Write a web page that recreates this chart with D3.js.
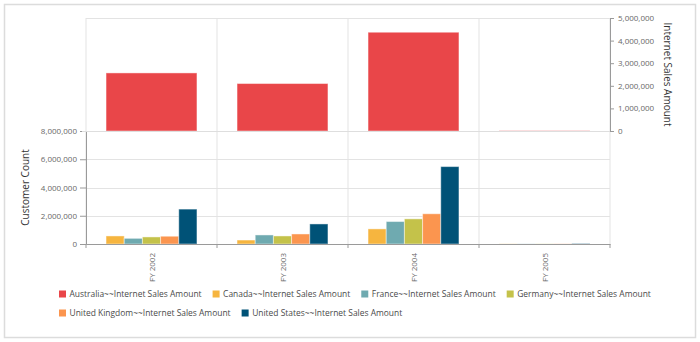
<!DOCTYPE html>
<html><head><meta charset="utf-8">
<script src="https://cdn.jsdelivr.net/npm/d3@7/dist/d3.min.js"></script>
<style>
html,body{margin:0;padding:0;background:#fff;}
svg{display:block;font-family:"Open Sans","Noto Sans",sans-serif;}
</style></head>
<body><svg id="c" width="700" height="342"></svg>
<script>
const categories = ["FY 2002", "FY 2003", "FY 2004", "FY 2005"];
const seriesNames = ["Australia~~Internet Sales Amount", "Canada~~Internet Sales Amount", "France~~Internet Sales Amount", "Germany~~Internet Sales Amount", "United Kingdom~~Internet Sales Amount", "United States~~Internet Sales Amount"];
const seriesColors = ["#E94649", "#F6B53F", "#6FAAB0", "#C4C24A", "#FB954F", "#005277"];
const australia = [2570000, 2100000, 4370000, 12000];
const canada = [570000, 280000, 1070000, 10000];
const france = [400000, 640000, 1590000, 9000];
const germany = [500000, 570000, 1780000, 10000];
const unitedKingdom = [550000, 710000, 2140000, 11000];
const unitedStates = [2470000, 1420000, 5480000, 25000];
const topTicks = [0, 1000000, 2000000, 3000000, 4000000, 5000000];
const bottomTicks = [0, 2000000, 4000000, 6000000, 8000000];
const topTitle = "Internet Sales Amount";
const bottomTitle = "Customer Count";

const svg = d3.select("#c");
const fmt = d3.format(",");
const L = 86, R = 610, T = 18, M = 131, B = 244;

// outer border
svg.append("rect").attr("x",4.5).attr("y",4.5).attr("width",691).attr("height",333)
  .attr("fill","none").attr("stroke","#dcdcdc").attr("stroke-width",1.5);

const x = d3.scaleBand().domain(categories).range([L, R]);
const yTop = d3.scaleLinear().domain([0, 5000000]).range([M, T]);
const yBot = d3.scaleLinear().domain([0, 8000000]).range([B, M]);
const bw = x.bandwidth();
const inner = d3.scaleBand().domain(["a"]).range([bw*0.153, bw*0.847]);
const bottomSeries = [canada, france, germany, unitedKingdom, unitedStates];
const sub = d3.scaleBand().domain(d3.range(bottomSeries.length)).range([bw*0.153, bw*0.847]);

const grid = svg.append("g");
const bounds = categories.map(c => x(c)).concat([R]);
grid.selectAll("line.v").data(bounds).join("line")
  .attr("x1", d=>d).attr("x2", d=>d).attr("y1", T).attr("y2", B)
  .attr("stroke", "#e3e3e3").attr("stroke-width", 1);
grid.append("line").attr("x1",L).attr("x2",R).attr("y1",T+0.5).attr("y2",T+0.5).attr("stroke","#e3e3e3");
grid.selectAll("line.h").data(bottomTicks.filter(t=>t>0)).join("line")
  .attr("x1", L).attr("x2", R).attr("y1", d=>Math.round(yBot(d))+0.5).attr("y2", d=>Math.round(yBot(d))+0.5)
  .attr("stroke", "#e3e3e3");

svg.append("g").selectAll("rect").data(australia).join("rect")
  .attr("x", (d,i)=>x(categories[i]) + inner("a"))
  .attr("width", inner.bandwidth())
  .attr("y", d=>yTop(d)).attr("height", d=>M - yTop(d))
  .attr("fill", seriesColors[0]).attr("stroke","#fff").attr("stroke-opacity",0.45).attr("stroke-width",1);

bottomSeries.forEach((vals, s) => {
  svg.append("g").selectAll("rect").data(vals).join("rect")
    .attr("x", (d,i)=>x(categories[i]) + sub(s))
    .attr("width", sub.bandwidth())
    .attr("y", d=>yBot(d)).attr("height", d=>B - yBot(d))
    .attr("fill", seriesColors[s+1]).attr("stroke","#fff").attr("stroke-opacity",0.45).attr("stroke-width",1);
});

const tickCol = "#9a9a9a", labCol = "#686868";
const leftAx = svg.append("g").attr("transform", `translate(${L},0)`)
  .call(d3.axisLeft(yBot).tickValues(bottomTicks).tickFormat(fmt).tickSize(6).tickPadding(3));
leftAx.select(".domain").attr("stroke", tickCol);
leftAx.selectAll(".tick line").attr("stroke", tickCol);
leftAx.selectAll("text").attr("fill", labCol).style("font-size","8px").style("font-family","'Open Sans',sans-serif");

const rightAx = svg.append("g").attr("transform", `translate(${R},0)`)
  .call(d3.axisRight(yTop).tickValues(topTicks).tickFormat(fmt).tickSize(4).tickPadding(4));
rightAx.select(".domain").attr("stroke", tickCol);
rightAx.selectAll(".tick line").attr("stroke", tickCol);
rightAx.selectAll("text").attr("fill", labCol).style("font-size","8px").style("font-family","'Open Sans',sans-serif");

svg.append("line").attr("x1", L-4).attr("x2", R).attr("y1", M+0.5).attr("y2", M+0.5).attr("stroke","#dedede");

const xAx = svg.append("g").attr("transform", `translate(0,${B})`)
  .call(d3.axisBottom(x).tickSize(0).tickFormat(""));
xAx.select(".domain").attr("stroke", tickCol);
xAx.selectAll(".tk").data(bounds).join("line").attr("class","tk")
  .attr("x1", d=>d).attr("x2", d=>d).attr("y1",0).attr("y2",4).attr("stroke", tickCol);
svg.append("g").selectAll("text").data(categories).join("text")
  .attr("transform", d=>`translate(${x(d)+bw/2+3},${B+9}) rotate(-90)`)
  .attr("text-anchor","end").attr("fill", labCol).style("font-size","8px")
  .text(d=>d);

svg.append("text").attr("transform", `translate(${29},${(M+B)/2}) rotate(-90)`)
  .attr("text-anchor","middle").attr("fill","#333").style("font-size","10px").text(bottomTitle);
svg.append("text").attr("transform", `translate(${664},${(T+M)/2}) rotate(90)`)
  .attr("text-anchor","middle").attr("fill","#333").style("font-size","10px").text(topTitle);

const leg = svg.append("g");
const rows = [[0,1,2,3],[4,5]];
const rowY = [294.5, 313.5];
rows.forEach((row, r) => {
  let cx = 59;
  row.forEach(i => {
    const g = leg.append("g");
    g.append("rect").attr("x", cx).attr("y", rowY[r]-4).attr("width",7).attr("height",7).attr("fill", seriesColors[i]);
    const t = g.append("text").attr("x", cx+10.5).attr("y", rowY[r]).attr("dy","0.35em")
      .attr("fill","#4a4a4a").style("font-size","8.45px").text(seriesNames[i]);
    const w = t.node().getComputedTextLength();
    cx = cx + 10.5 + w + 11;
  });
});
</script></body></html>
